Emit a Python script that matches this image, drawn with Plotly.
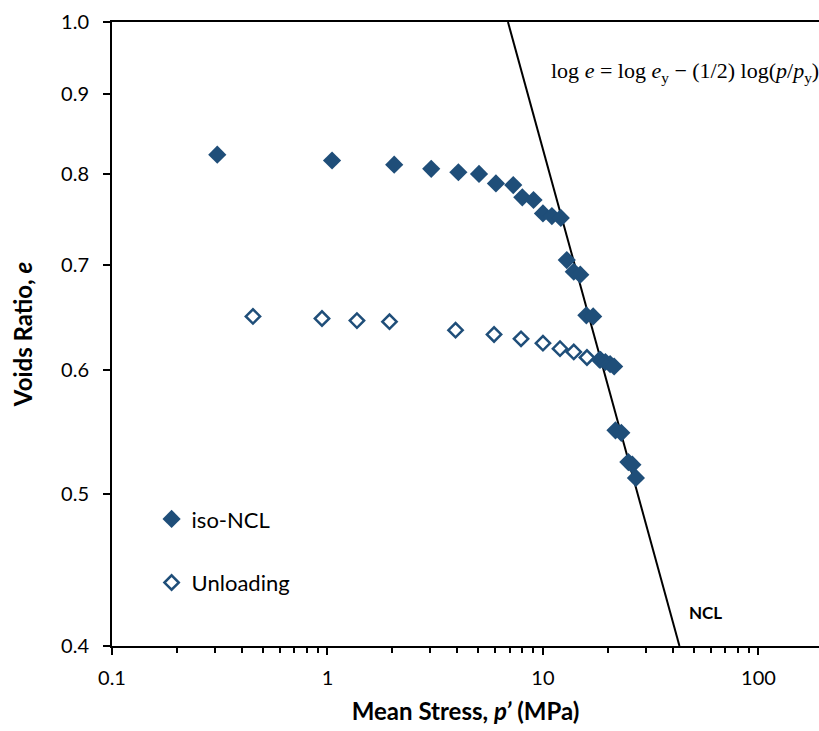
import numpy as np
import plotly.graph_objects as go

# iso-NCL (loading) data
ncl_p = [0.308, 1.05, 2.04, 3.03, 4.05, 5.05, 6.05, 7.28, 8.02, 9.04, 10.0, 11.0, 12.1,
         12.9, 13.9, 14.9, 15.9, 17.1, 18.5, 19.5, 20.5, 21.4, 21.7, 23.1, 24.9, 26.0, 27.0]
ncl_e = [0.823, 0.816, 0.811, 0.806, 0.802, 0.800, 0.789, 0.787, 0.773, 0.770, 0.755, 0.752, 0.750,
         0.705, 0.693, 0.690, 0.650, 0.649, 0.609, 0.607, 0.605, 0.603, 0.549, 0.547, 0.524, 0.522, 0.512]

# Unloading data
unl_p = [0.451, 0.943, 1.37, 1.94, 3.93, 5.93, 7.91, 10.0, 12.0, 13.9, 16.0, 18.3]
unl_e = [0.649, 0.647, 0.645, 0.644, 0.636, 0.632, 0.628, 0.624, 0.619, 0.616, 0.611, 0.609]

# NCL line: log e = log e_y - 0.5 log(p/p_y)
line_p = [6.88, 43.0]
line_e = [1.0, 0.4]

x_ticks = [0.1, 1, 10, 100]
x_ticklabels = ["0.1", "1", "10", "100"]
y_ticks = [0.4, 0.5, 0.6, 0.7, 0.8, 0.9, 1.0]
y_ticklabels = ["0.4", "0.5", "0.6", "0.7", "0.8", "0.9", "1.0"]

blue = "#1F4E79"
font_main = "Lato"

fig = go.Figure()
fig.add_trace(go.Scatter(x=line_p, y=line_e, mode="lines",
                         line=dict(color="black", width=2), showlegend=False, hoverinfo="skip"))
fig.add_trace(go.Scatter(x=ncl_p, y=ncl_e, mode="markers", name="iso-NCL", legendgroup="a",
                         marker=dict(symbol="diamond", size=14, color=blue)))
fig.add_trace(go.Scatter(x=unl_p, y=unl_e, mode="markers", name="Unloading", legendgroup="b",
                         marker=dict(symbol="diamond-open", size=11, color=blue,
                                     line=dict(width=2.5, color=blue))))

fig.update_layout(
    width=819, height=731,
    margin=dict(l=112, r=0, t=22, b=85),
    plot_bgcolor="white", paper_bgcolor="white",
    font=dict(family=font_main, size=20, color="black"),
    legend=dict(x=0.056, y=0.237, xanchor="left", yanchor="top",
                bgcolor="rgba(0,0,0,0)", font=dict(size=22),
                tracegroupgap=32),
    xaxis=dict(type="log", range=[-1, np.log10(191)],
               tickvals=x_ticks, ticktext=x_ticklabels,
               ticks="outside", ticklen=7, tickwidth=2, tickcolor="black",
               showline=True, linecolor="black", linewidth=2, mirror=True,
               showgrid=False, zeroline=False, ticklabelstandoff=6,
               minor=dict(ticks="outside", ticklen=5, tickwidth=2, tickcolor="black",
                          dtick="D1", showgrid=False),
               title=dict(text="<b>Mean Stress, <i>p’</i> (MPa)</b>", font=dict(size=24), standoff=15)),
    yaxis=dict(type="log", range=[np.log10(0.4), 0],
               tickvals=y_ticks, ticktext=y_ticklabels,
               ticks="outside", ticklen=7, tickwidth=2, tickcolor="black",
               showline=True, linecolor="black", linewidth=2, mirror=False,
               showgrid=False, zeroline=False, ticklabelstandoff=10,
               title=dict(text="<b>Voids Ratio, <i>e</i></b>", font=dict(size=24), standoff=22)),
)

fig.add_annotation(xref="paper", yref="paper", x=0.81, y=0.92, xanchor="center", yanchor="middle",
                   text="log <i>e</i> = log <i>e</i><sub>y</sub> − (1/2) log(<i>p</i>/<i>p</i><sub>y</sub>)",
                   showarrow=False, font=dict(family="Liberation Serif", size=22, color="black"))
fig.add_annotation(xref="paper", yref="paper", x=0.839, y=0.053, xanchor="center", yanchor="middle",
                   text="<b>NCL</b>", showarrow=False, font=dict(family=font_main, size=17, color="black"))

fig.write_html("out.html")
